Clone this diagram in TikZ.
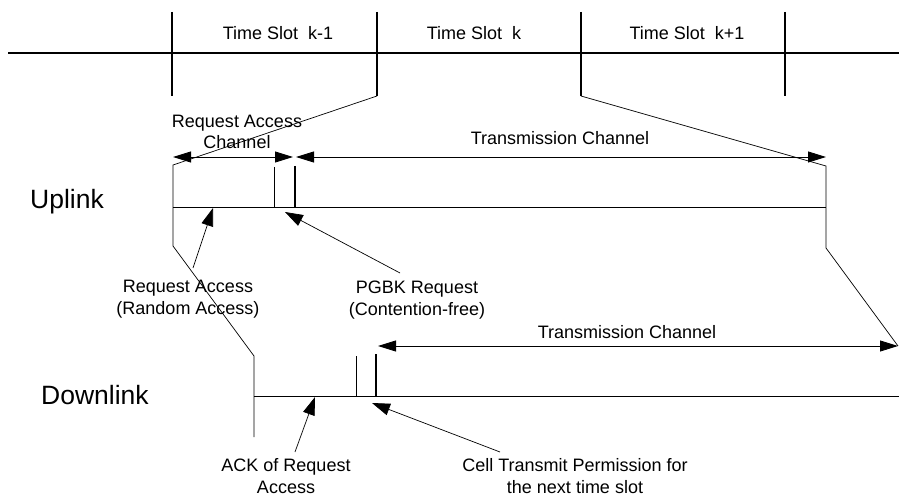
\documentclass[tikz,border=0pt]{standalone}
\usepackage{fontspec}
\setmainfont{Liberation Sans}
\usetikzlibrary{arrows.meta}
\begin{document}
\begin{tikzpicture}[x=1pt,y=-1pt,
  thickline/.style={line width=2.6pt},
  thinline/.style={line width=0.9pt},
  hairline/.style={line width=0.7pt},
  dimarrow/.style={thinline,{Triangle[length=18pt,width=11pt]}-{Triangle[length=18pt,width=11pt]}},
  pointer/.style={hairline,-{Triangle[length=18pt,width=12pt]}},
  lbl/.style={font=\fontsize{18}{22}\selectfont,align=center,inner sep=0pt},
  biglbl/.style={font=\fontsize{26.5}{30}\selectfont,inner sep=0pt}]
\useasboundingbox (0,0) rectangle (899,497);

% time axis with slot boundaries
\coordinate (axL) at (8,53);
\coordinate (axR) at (899,53);
\draw[thickline] (axL) -- (axR);
\foreach \n/\x in {a/172,b/377,c/581,d/785}{
  \coordinate (t\n top) at (\x,12);
  \coordinate (t\n bot) at (\x,96);
  \draw[thickline] (t\n top) -- (t\n bot);
}
\node[lbl] (slot1) at (278,33) {Time Slot~~k-1};
\node[lbl] (slot2) at (474,33) {Time Slot~~k};
\node[lbl] (slot3) at (687,33) {Time Slot~~k+1};

% uplink frame
\coordinate (uTL) at (173,165);
\coordinate (uBL) at (173,246);
\coordinate (uTR) at (826,166);
\coordinate (uBR) at (826,248);
\coordinate (uLineL) at (173,207);
\coordinate (uLineR) at (826,207);
\draw[hairline] (tbbot) -- (uTL) -- (uBL);
\draw[hairline] (tcbot) -- (uTR) -- (uBR);
\draw[thinline] (uLineL) -- (uLineR);

% uplink channel split
\coordinate (uSplitThinT) at (274,167);
\coordinate (uSplitThinB) at (274,207);
\coordinate (uSplitThickT) at (295,166);
\coordinate (uSplitThickB) at (295,208);
\draw[thinline] (uSplitThinT) -- (uSplitThinB);
\draw[thickline] (uSplitThickT) -- (uSplitThickB);

\coordinate (racL) at (173,157);
\coordinate (racR) at (293,157);
\coordinate (tcuL) at (296,157);
\coordinate (tcuR) at (826,157);
\draw[dimarrow] (racL) -- (racR);
\draw[dimarrow] (tcuL) -- (tcuR);
\node[lbl] (rac) at (237,132) {Request Access\\[-1pt]Channel};
\node[lbl] (tcu) at (560,138) {Transmission Channel};

\node[biglbl] (uplink) at (67,202) {Uplink};

% uplink pointers
\node[lbl] (ra) at (188,299) {Request Access\\(Random Access)};
\node[lbl] (pg) at (417,300) {PGBK Request\\(Contention-free)};
\coordinate (raFrom) at (193,268);
\coordinate (raTo) at (213,208);
\coordinate (pgFrom) at (400,273);
\coordinate (pgTo) at (285,212);
\draw[pointer] (raFrom) -- (raTo);
\draw[pointer] (pgFrom) -- (pgTo);

% downlink frame
\coordinate (dTL) at (254,356);
\coordinate (dBL) at (254,437);
\coordinate (dLineL) at (254,396);
\coordinate (dLineR) at (899,396);
\draw[hairline] (uBL) -- (dTL) -- (dBL);
\draw[thinline] (dLineL) -- (dLineR);

\coordinate (dSplitThinT) at (356,356);
\coordinate (dSplitThinB) at (356,396);
\coordinate (dSplitThickT) at (376,354);
\coordinate (dSplitThickB) at (376,397);
\draw[thinline] (dSplitThinT) -- (dSplitThinB);
\draw[thickline] (dSplitThickT) -- (dSplitThickB);

\coordinate (tcdL) at (378,346);
\coordinate (tcdR) at (898,346);
\draw[dimarrow] (tcdL) -- (tcdR);
\draw[hairline] (uBR) -- (tcdR);
\node[lbl] (tcd) at (627,332) {Transmission Channel};

\node[biglbl] (downlink) at (95,395) {Downlink};

% downlink pointers
\node[lbl] (ack) at (286,476) {ACK of Request\\Access};
\node[lbl] (ctp) at (575,476) {Cell Transmit Permission for\\the next time slot};
\coordinate (ackFrom) at (295,452);
\coordinate (ackTo) at (315,397);
\coordinate (ctpFrom) at (500,452);
\coordinate (ctpTo) at (372,403);
\draw[pointer] (ackFrom) -- (ackTo);
\draw[pointer] (ctpFrom) -- (ctpTo);
\end{tikzpicture}
\end{document}
